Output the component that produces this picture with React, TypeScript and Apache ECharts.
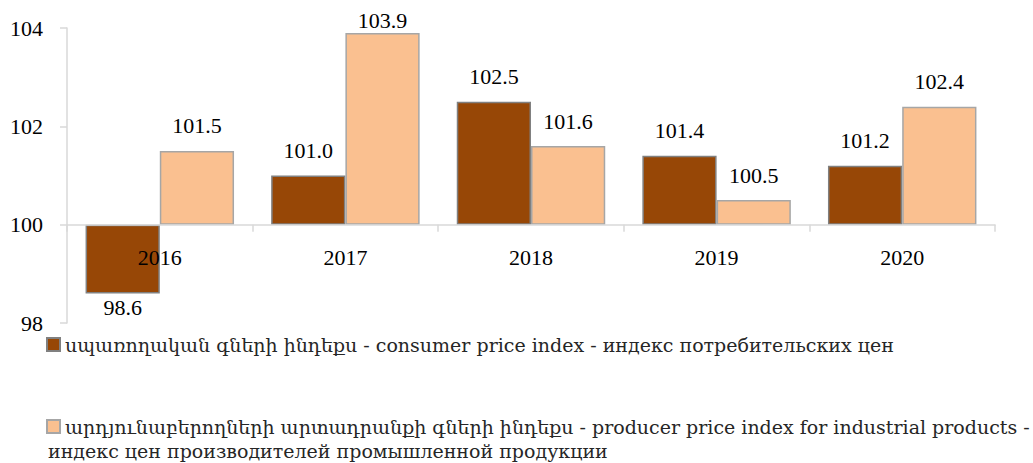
import React, { useEffect, useRef } from "react";
import * as echarts from "echarts";

const categories = ["2016", "2017", "2018", "2019", "2020"];
const consumerValues = [98.6, 101.0, 102.5, 101.4, 101.2];
const producerValues = [101.5, 103.9, 101.6, 100.5, 102.4];
const yTicks = [98, 100, 102, 104];
const baseline = 100;

const consumerName = "սպառողական գների ինդեքս - consumer price index - индекс потребительских цен";
const producerNameLine1 = "արդյունաբերողների արտադրանքի գների ինդեքս - producer price index for industrial products -";
const producerNameLine2 = "индекс цен производителей промышленной продукции";
const producerName = producerNameLine1 + " " + producerNameLine2;

const FONT = "'Liberation Serif', 'DejaVu Serif', serif";
const LEGEND_FONT = "'DejaVu Serif', 'Liberation Serif', serif";

const GRID_TOP = 28;
const GRID_BOTTOM_PX = 323;

export default function App() {
  const ref = useRef<HTMLDivElement>(null);
  useEffect(() => {
    if (!ref.current) return;
    const chart = echarts.init(ref.current, undefined, { renderer: "svg" });
    const yMin = yTicks[0] - baseline;
    const yMax = yTicks[yTicks.length - 1] - baseline;
    // pixel distance from grid bottom to the baseline row
    const baselineOffset = ((0 - yMin) / (yMax - yMin)) * (GRID_BOTTOM_PX - GRID_TOP);
    const mk = (vals: number[]) =>
      vals.map((v) => {
        const off = v - baseline;
        return {
          value: off,
          label: {
            position: off < 0 ? "bottom" : "top",
            distance: off < 0 ? 3 : off > 3.5 ? 1 : 14,
          },
        };
      });
    const labelCommon = {
      show: true,
      fontFamily: FONT,
      fontSize: 22,
      color: "#000",
      formatter: (p: any) => (p.value + baseline).toFixed(1),
    };
    chart.setOption({
      animation: false,
      grid: { left: 67, right: 38, top: GRID_TOP, bottom: 463 - GRID_BOTTOM_PX },
      xAxis: {
        type: "category",
        data: categories,
        z: 10,
        axisLine: { onZero: true, lineStyle: { color: "#d9d9d9", width: 1.5 } },
        axisTick: { show: true, length: 7, lineStyle: { color: "#d9d9d9", width: 1.5 } },
        axisLabel: { fontFamily: FONT, fontSize: 22, color: "#000", margin: 22 - baselineOffset },
      },
      yAxis: {
        type: "value",
        min: yMin,
        max: yMax,
        interval: yTicks[1] - yTicks[0],
        axisLine: { show: true, lineStyle: { color: "#d9d9d9", width: 1.5 } },
        axisTick: { show: true, length: 7, lineStyle: { color: "#d9d9d9", width: 1.5 } },
        splitLine: { show: false },
        axisLabel: {
          fontFamily: FONT,
          fontSize: 22,
          color: "#000",
          margin: 24,
          formatter: (v: number) => String(v + baseline),
        },
      },
      legend: [
        {
          data: [consumerName],
          left: 46,
          top: 335,
          padding: 0,
          itemWidth: 13,
          itemHeight: 13,
          icon: "rect",
          textStyle: { fontFamily: LEGEND_FONT, fontSize: 19, color: "#262626" },
        },
        {
          data: [producerName],
          left: 46,
          top: 417,
          padding: 0,
          itemWidth: 13,
          itemHeight: 13,
          icon: "rect",
          formatter: () => producerNameLine1,
          textStyle: { fontFamily: LEGEND_FONT, fontSize: 19, color: "#262626" },
        },
      ],
      graphic: [
        {
          type: "text",
          left: 48,
          top: 441,
          style: { text: producerNameLine2, fontFamily: LEGEND_FONT, fontSize: 19, fill: "#262626" },
        },
      ],
      series: [
        {
          name: consumerName,
          type: "bar",
          data: mk(consumerValues),
          barGap: "0%",
          barCategoryGap: "20%",
          itemStyle: { color: "#974706", borderColor: "#808080", borderWidth: 1.5 },
          label: labelCommon,
        },
        {
          name: producerName,
          type: "bar",
          data: mk(producerValues),
          barGap: "0%",
          barCategoryGap: "20%",
          itemStyle: { color: "#FAC090", borderColor: "#a6a6a6", borderWidth: 1.5 },
          label: labelCommon,
        },
      ],
    });
    return () => chart.dispose();
  }, []);
  return <div ref={ref} style={{ width: 1033, height: 463, position: "absolute", left: 0, top: 0 }} />;
}
